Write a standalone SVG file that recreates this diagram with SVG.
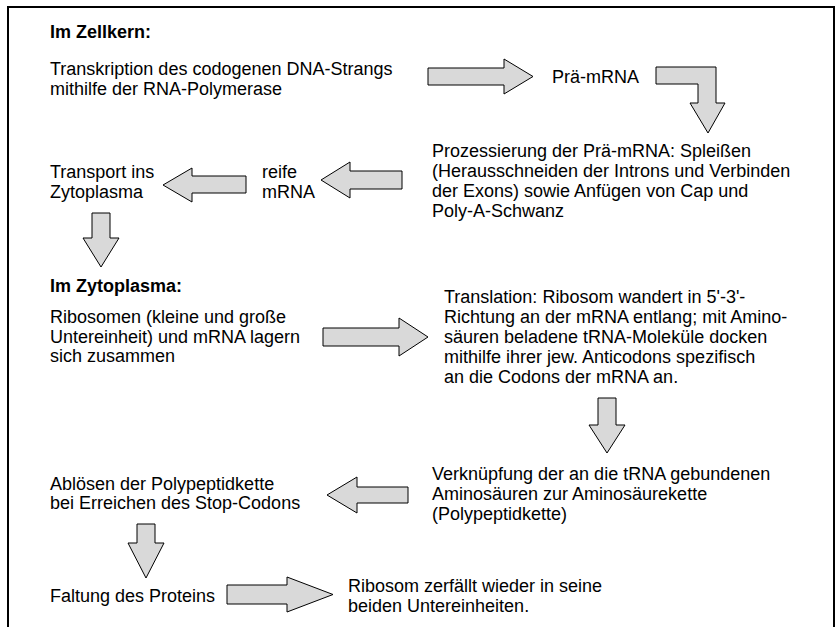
<svg xmlns="http://www.w3.org/2000/svg" width="840" height="627" viewBox="0 0 840 627">
<style>
text{font-family:"Liberation Sans",Arial,sans-serif;font-size:18px;fill:#000}
.h{font-weight:bold}
.ar{fill:#d9d9d9;stroke:#000;stroke-width:1}
</style>
<rect width="840" height="627" fill="#fff"/>
<path d="M8,627 V7 H834 V627" fill="none" stroke="#000" stroke-width="2"/>
<g id="connectors">
<path class="ar" d="M428,68 H504 V59 L533,76.5 L504,94 V85 H428 Z"/>
<path class="ar" d="M656,67 H716 V103 H725 L708,133 L690,103 H698 V84 H656 Z"/>
<path class="ar" d="M402,171 H350 V162 L321,180 L350,198 V189 H402 Z"/>
<path class="ar" d="M246,176 H192 V168 L163,185 L192,202 V193 H246 Z"/>
<path class="ar" d="M92,213 H110 V238 H119 L101,267 L83,238 H92 Z"/>
<path class="ar" d="M323,328 H399 V318 L428,337 L399,356 V346 H323 Z"/>
<path class="ar" d="M598,398 H616 V425 H625 L607,453 L589,425 H598 Z"/>
<path class="ar" d="M408,487 H357 V477 L327,495 L357,513 V503 H408 Z"/>
<path class="ar" d="M137,524 H155 V543 H164 L146,578 L128,543 H137 Z"/>
<path class="ar" d="M227,585 H287 V577 L333,594.5 L287,612 V604 H227 Z"/>
</g>
<g id="title-zellkern"><text class="h" x="50" y="38">Im Zellkern:</text></g>
<g id="transkription"><text x="50" y="75">Transkription des codogenen DNA-Strangs</text><text x="50" y="95">mithilfe der RNA-Polymerase</text></g>
<g id="praemrna"><text x="552" y="83">Prä-mRNA</text></g>
<g id="prozessierung"><text x="432" y="157">Prozessierung der Prä-mRNA: Spleißen</text><text x="432" y="177">(Herausschneiden der Introns und Verbinden</text><text x="432" y="197">der Exons) sowie Anfügen von Cap und</text><text x="432" y="217">Poly-A-Schwanz</text></g>
<g id="reifemrna"><text x="262" y="178">reife</text><text x="262" y="198">mRNA</text></g>
<g id="transport"><text x="50" y="178">Transport ins</text><text x="50" y="198">Zytoplasma</text></g>
<g id="title-zytoplasma"><text class="h" x="50" y="292">Im Zytoplasma:</text></g>
<g id="ribosomen"><text x="50" y="323">Ribosomen (kleine und große</text><text x="50" y="343">Untereinheit) und mRNA lagern</text><text x="50" y="362">sich zusammen</text></g>
<g id="translation"><text x="444" y="303">Translation: Ribosom wandert in 5'-3'-</text><text x="444" y="323">Richtung an der mRNA entlang; mit Amino-</text><text x="444" y="343">säuren beladene tRNA-Moleküle docken</text><text x="444" y="363">mithilfe ihrer jew. Anticodons spezifisch</text><text x="444" y="383">an die Codons der mRNA an.</text></g>
<g id="verknuepfung"><text x="432" y="480">Verknüpfung der an die tRNA gebundenen</text><text x="432" y="500">Aminosäuren zur Aminosäurekette</text><text x="432" y="520">(Polypeptidkette)</text></g>
<g id="abloesen"><text x="50" y="490">Ablösen der Polypeptidkette</text><text x="50" y="509">bei Erreichen des Stop-Codons</text></g>
<g id="faltung"><text x="50" y="602">Faltung des Proteins</text></g>
<g id="zerfall"><text x="348" y="592">Ribosom zerfällt wieder in seine</text><text x="348" y="612">beiden Untereinheiten.</text></g>
</svg>
